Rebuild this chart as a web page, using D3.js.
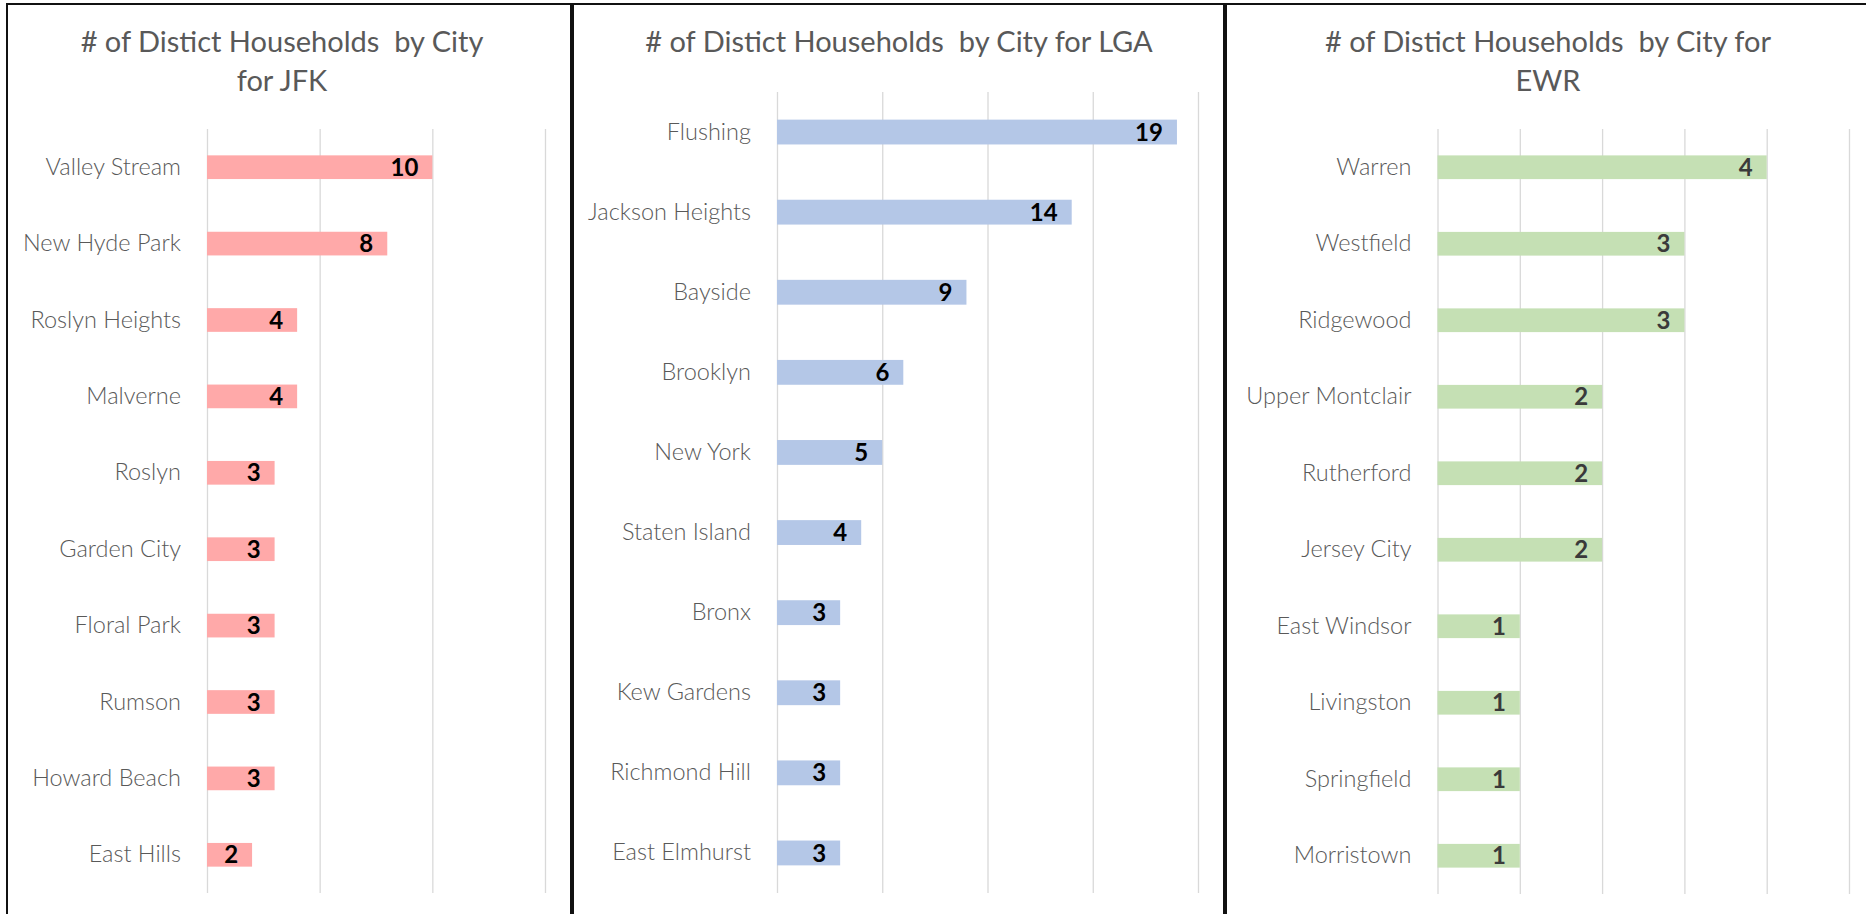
<!DOCTYPE html>
<html>
<head>
<meta charset="utf-8">
<script src="https://cdn.jsdelivr.net/npm/d3@7"></script>
<style>
  html, body { margin: 0; padding: 0; background: #fff; }
  svg { display: block; }
  text { white-space: pre; }
</style>
</head>
<body>
<svg id="chart" width="1866" height="914"></svg>
<script>
// ---- data ----
const jfkCities = ["Valley Stream","New Hyde Park","Roslyn Heights","Malverne","Roslyn","Garden City","Floral Park","Rumson","Howard Beach","East Hills"];
const jfkValues = [10,8,4,4,3,3,3,3,3,2];
const jfkTicks = [0,5,10,15];
const jfkTitle = ["# of Distict Households  by City", "for JFK"];

const lgaCities = ["Flushing","Jackson Heights","Bayside","Brooklyn","New York","Staten Island","Bronx","Kew Gardens","Richmond Hill","East Elmhurst"];
const lgaValues = [19,14,9,6,5,4,3,3,3,3];
const lgaTicks = [0,5,10,15,20];
const lgaTitle = ["# of Distict Households  by City for LGA"];

const ewrCities = ["Warren","Westfield","Ridgewood","Upper Montclair","Rutherford","Jersey City","East Windsor","Livingston","Springfield","Morristown"];
const ewrValues = [4,3,3,2,2,2,1,1,1,1];
const ewrTicks = [0,1,2,3,4,5];
const ewrTitle = ["# of Distict Households  by City for", "EWR"];

// ---- layout ----
const panels = [
  { cities: jfkCities, values: jfkValues, ticks: jfkTicks, title: jfkTitle,
    box: [7, 4, 571, 920], titleX: 282, x0: 207, x1: 545, y0: 129, y1: 893,
    fill: "#FFA9A9", labelColor: "#000000" },
  { cities: lgaCities, values: lgaValues, ticks: lgaTicks, title: lgaTitle,
    box: [573, 4, 1224, 920], titleX: 899, x0: 777, x1: 1198, y0: 92, y1: 893,
    fill: "#B4C7E7", labelColor: "#000000" },
  { cities: ewrCities, values: ewrValues, ticks: ewrTicks, title: ewrTitle,
    box: [1226, 4, 1880, 920], titleX: 1548, x0: 1437.5, x1: 1849, y0: 129, y1: 894,
    fill: "#C5E0B4", labelColor: "#3A3A3A" }
];

const svg = d3.select("#chart");
const FONT = "Lato, 'Open Sans', sans-serif";

panels.forEach(p => {
  const g = svg.append("g");
  g.append("rect")
    .attr("x", p.box[0]).attr("y", p.box[1])
    .attr("width", p.box[2] - p.box[0]).attr("height", p.box[3] - p.box[1])
    .attr("fill", "none").attr("stroke", "#111").attr("stroke-width", 2);

  const t = g.append("text")
    .attr("x", p.titleX).attr("y", 52)
    .attr("text-anchor", "middle")
    .attr("font-family", FONT).attr("font-size", 29)
    .attr("fill", "#595959");
  p.title.forEach((line, i) => {
    t.append("tspan").attr("x", p.titleX).attr("dy", i === 0 ? 0 : 39).text(line);
  });

  const x = d3.scaleLinear()
    .domain([p.ticks[0], p.ticks[p.ticks.length - 1]])
    .range([p.x0, p.x1]);
  const y = d3.scaleBand()
    .domain(p.cities)
    .range([p.y0, p.y1])
    .paddingInner(0.69).paddingOuter(0.345);

  const grid = g.append("g")
    .attr("transform", `translate(0,${p.y1})`)
    .call(d3.axisBottom(x).tickValues(p.ticks).tickSize(-(p.y1 - p.y0)).tickFormat(""));
  grid.select(".domain").remove();
  grid.selectAll(".tick line").attr("stroke", "#D9D9D9").attr("stroke-width", 1.3);

  const yAxis = g.append("g")
    .attr("transform", `translate(${p.x0},0)`)
    .call(d3.axisLeft(y).tickSize(0).tickPadding(26));
  yAxis.select(".domain").remove();
  yAxis.selectAll("text")
    .attr("font-family", FONT).attr("font-size", 23.5).attr("font-weight", 300)
    .attr("fill", "#595959");

  g.selectAll("rect.bar")
    .data(p.cities.map((c, i) => ({ c, v: p.values[i] })))
    .join("rect")
    .attr("class", "bar")
    .attr("x", x(0))
    .attr("y", d => y(d.c))
    .attr("width", d => x(d.v) - x(0))
    .attr("height", y.bandwidth())
    .attr("fill", p.fill);

  g.selectAll("text.val")
    .data(p.cities.map((c, i) => ({ c, v: p.values[i] })))
    .join("text")
    .attr("class", "val")
    .attr("x", d => x(d.v) - 14)
    .attr("y", d => y(d.c) + y.bandwidth() / 2)
    .attr("dy", "0.36em")
    .attr("text-anchor", "end")
    .attr("font-family", FONT).attr("font-weight", "bold").attr("font-size", 24)
    .attr("fill", p.labelColor)
    .text(d => d.v);
});
</script>
</body>
</html>
